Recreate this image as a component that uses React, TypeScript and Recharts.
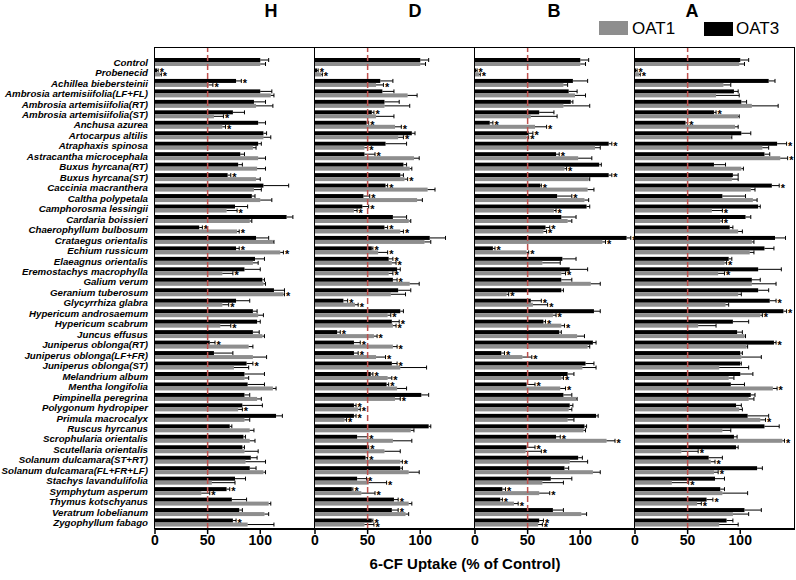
import React from "react";
import { BarChart, Bar, XAxis, YAxis, ReferenceLine } from "recharts";

const species = [
  "Control",
  "Probenecid",
  "Achillea biebersteinii",
  "Ambrosia artemisiifolia(LF+FL)",
  "Ambrosia artemisiifolia(RT)",
  "Ambrosia artemisiifolia(ST)",
  "Anchusa azurea",
  "Artocarpus altilis",
  "Atraphaxis spinosa",
  "Astracantha microcephala",
  "Buxus hyrcana(RT)",
  "Buxus hyrcana(ST)",
  "Caccinia macranthera",
  "Caltha polypetala",
  "Camphorosma lessingii",
  "Cardaria boissieri",
  "Chaerophyllum bulbosum",
  "Crataegus orientalis",
  "Echium russicum",
  "Elaeagnus orientalis",
  "Eremostachys macrophylla",
  "Galium verum",
  "Geranium tuberosum",
  "Glycyrrhiza glabra",
  "Hypericum androsaemum",
  "Hypericum scabrum",
  "Juncus effusus",
  "Juniperus oblonga(RT)",
  "Juniperus oblonga(LF+FR)",
  "Juniperus oblonga(ST)",
  "Melandrium album",
  "Mentha longifolia",
  "Pimpinella peregrina",
  "Polygonum hydropiper",
  "Primula macrocalyx",
  "Ruscus hyrcanus",
  "Scrophularia orientalis",
  "Scutellaria orientalis",
  "Solanum dulcamara(ST+RT)",
  "Solanum dulcamara(FL+FR+LF)",
  "Stachys lavandulifolia",
  "Symphytum asperum",
  "Thymus kotschyanus",
  "Veratrum lobelianum",
  "Zygophyllum fabago",
];

const panelTitles = ["H", "D", "B", "A"];
const xTicks = [0, 50, 100];

// panel H
const hOat3 = [100,2,77,100,94,74,98,103,98,81,79,69,103,92,76,125,42,96,77,95,85,102,113,77,93,97,93,52,56,87,85,88,85,83,115,71,84,83,91,90,76,68,73,80,74];
const hOat3Err = [8,1,5,11,11,11,7,3,3,4,4,3,24,3,12,6,3,12,3,9,15,2,10,13,4,3,6,5,18,6,19,16,5,19,6,2,2,2,6,6,10,3,14,3,3];
const hOat1 = [100,5,51,110,96,56,64,103,93,98,97,96,94,100,68,90,78,112,119,93,64,103,122,64,98,62,102,89,93,75,85,112,97,79,85,90,90,85,86,103,54,44,108,104,88];
const hOat1Err = [5,1,4,3,16,9,3,7,3,7,8,4,7,11,10,2,2,1,3,5,10,2,1,6,5,10,2,4,13,14,4,3,4,4,5,4,5,13,19,2,22,8,2,4,25];
const hSig3 = [1,2,11,16,18,27,29,41,44];
const hSig1 = [1,2,5,6,14,16,18,20,22,23,25,33,41];

// panel D
const dOat3 = [100,2,62,64,66,54,49,92,67,47,84,81,67,46,45,74,66,109,54,70,78,74,79,27,81,73,21,37,37,73,53,68,101,37,37,108,40,50,48,81,40,35,75,73,54];
const dOat3Err = [8,1,12,11,14,2,2,3,20,10,3,3,2,6,6,13,3,15,1,4,3,4,12,4,3,7,3,6,4,5,2,2,7,2,2,2,10,1,2,2,9,1,4,6,1];
const dOat1 = [100,6,58,88,66,58,76,79,47,94,90,85,107,97,37,89,81,104,60,73,70,90,72,38,69,74,56,74,58,81,69,78,76,41,28,91,74,66,81,89,51,44,89,86,47];
const dOat1Err = [5,1,7,9,24,17,6,5,3,5,2,3,7,5,3,2,3,6,9,4,4,9,14,3,3,3,3,4,9,25,4,9,5,2,2,3,18,15,2,10,17,13,3,3,9];
const dSig3 = [1,5,6,9,12,13,14,16,18,19,21,23,25,26,27,28,29,30,31,33,34,36,37,38,40,41,42,43,44];
const dSig1 = [1,2,6,7,8,11,14,16,18,19,20,23,24,25,26,27,28,30,32,33,34,38,40,41,44];

// panel B
const bOat3 = [100,1,93,89,91,61,14,51,127,77,118,127,62,78,106,82,67,144,17,83,90,82,82,53,113,65,80,112,25,105,88,49,84,90,115,104,77,49,98,85,72,26,24,74,61];
const bOat3Err = [8,1,14,8,2,14,3,4,3,3,2,3,1,14,3,14,4,4,2,13,17,10,2,10,6,2,2,3,3,8,6,8,8,3,2,2,4,8,4,4,20,3,2,10,4];
const bOat1 = [100,4,84,95,84,53,57,49,114,98,85,108,107,104,75,88,65,121,49,64,82,110,30,55,74,82,97,107,45,102,82,81,96,89,88,103,125,48,90,112,64,61,37,101,60];
const bOat1Err = [5,1,4,10,25,25,11,2,5,13,2,1,6,4,2,4,3,3,2,17,4,9,2,14,3,3,7,2,9,13,2,5,1,3,6,2,8,15,17,7,20,10,4,5,4];
const bSig3 = [1,6,7,8,9,11,12,13,16,17,18,23,25,28,31,36,37,41,42,44];
const bSig1 = [1,6,7,10,14,16,17,18,20,22,23,24,25,28,30,31,36,37,41,42,44];

// panel A
const aOat3 = [100,1,127,94,101,75,48,101,135,123,75,93,130,83,117,105,90,133,123,89,117,111,117,128,141,93,97,132,100,100,100,91,110,96,107,123,94,96,70,116,76,81,68,104,87];
const aOat3Err = [8,1,6,4,5,2,2,9,9,5,11,5,7,22,2,5,3,10,9,3,22,8,10,6,3,15,5,2,2,1,12,13,4,5,20,14,3,2,13,5,9,4,6,16,6];
const aOat1 = [99,4,84,77,111,98,95,91,121,138,101,92,110,112,73,81,98,111,109,85,79,111,98,86,119,60,104,106,101,80,89,131,108,99,119,83,140,44,72,75,35,83,59,93,80];
const aOat1Err = [5,1,7,22,25,1,3,1,6,7,2,6,4,4,10,2,4,2,4,2,6,23,3,3,2,17,1,1,19,28,5,4,5,3,5,8,2,16,4,4,16,24,4,15,18];
const aSig3 = [1,5,6,8,12,23,24,27,42];
const aSig1 = [1,9,14,15,19,20,24,31,34,36,37,38,39,40,42];

const FONT = "'Liberation Sans', Arial, Helvetica, sans-serif";
const GRAY = "#8e8e8e";
const PLOT_TOP = 47;
const PLOT_H = 482;
const PANEL_W = 160;

function buildRows(
  o3: number[],
  e3: number[],
  o1: number[],
  e1: number[],
  s3: number[],
  s1: number[]
) {
  return species.map((name, i) => ({
    name,
    oat3: o3[i],
    e3: e3[i],
    oat1: o1[i],
    e1: e1[i],
    s3: s3.includes(i),
    s1: s1.includes(i),
  }));
}

const panels = [
  { left: 155, rows: buildRows(hOat3, hOat3Err, hOat1, hOat1Err, hSig3, hSig1) },
  { left: 315, rows: buildRows(dOat3, dOat3Err, dOat1, dOat1Err, dSig3, dSig1) },
  { left: 475, rows: buildRows(bOat3, bOat3Err, bOat1, bOat1Err, bSig3, bSig1) },
  { left: 635, rows: buildRows(aOat3, aOat3Err, aOat1, aOat1Err, aSig3, aSig1) },
];

// bar + one-sided error bar + significance star
const barWithError = (valueKey: string, errKey: string, sigKey: string) => (props: any) => {
  const { x, y, width, height, fill, payload } = props;
  const v = payload[valueKey];
  const perUnit = v > 0 ? width / v : 0;
  const ex = x + width + payload[errKey] * perUnit;
  const cy = y + height / 2;
  return (
    <g>
      <rect x={x} y={y} width={width} height={height} fill={fill} />
      <line x1={x + width} y1={cy} x2={ex} y2={cy} stroke="#000" strokeWidth={1} />
      <line x1={ex} y1={cy - 2} x2={ex} y2={cy + 2} stroke="#000" strokeWidth={1} />
      {payload[sigKey] && (
        <text x={ex + 1.5} y={cy + 6} fontSize={11} fontWeight="bold" fontFamily={FONT} fill="#000">
          *
        </text>
      )}
    </g>
  );
};

// single-line species label (no wrapping)
const SpeciesTick = (props: any) => {
  const { x, y, payload } = props;
  return (
    <text
      x={x}
      y={y}
      dy="0.355em"
      textAnchor="end"
      fontSize={9.7}
      fontWeight="bold"
      fontStyle="italic"
      fontFamily={FONT}
      fill="#000"
    >
      {payload.value}
    </text>
  );
};

const Panel = ({ left, rows, showLabels }: { left: number; rows: any[]; showLabels: boolean }) => {
  const ml = showLabels ? 0 : 12;
  const yw = showLabels ? left : 0;
  const chartLeft = showLabels ? 0 : left - ml;
  const width = ml + yw + PANEL_W + 1;
  return (
    <div style={{ position: "absolute", left: chartLeft, top: 0 }}>
      <BarChart
        layout="vertical"
        width={width}
        height={580}
        data={rows}
        margin={{ top: PLOT_TOP, right: 1, bottom: 21, left: ml }}
        barGap={0}
        barSize={4}
      >
        <XAxis
          type="number"
          domain={[0, 152]}
          ticks={xTicks}
          allowDataOverflow
          height={30}
          tickSize={5}
          tickMargin={1}
          axisLine={{ stroke: "#000", strokeWidth: 2 }}
          tickLine={{ stroke: "#000", strokeWidth: 1.5 }}
          tick={{ fill: "#000", fontSize: 14, fontWeight: "bold", fontFamily: FONT }}
        />
        <YAxis
          type="category"
          dataKey="name"
          hide={!showLabels}
          width={yw}
          interval={0}
          axisLine={false}
          tickLine={false}
          tickMargin={1}
          padding={{ top: 10, bottom: 1 }}
          tick={<SpeciesTick />}
        />
        <Bar dataKey="oat3" fill="#000" isAnimationActive={false} shape={barWithError("oat3", "e3", "s3")} />
        <Bar dataKey="oat1" fill={GRAY} isAnimationActive={false} shape={barWithError("oat1", "e1", "s1")} />
        <ReferenceLine x={50} stroke="#c0504d" strokeWidth={1.5} strokeDasharray="6 3" />
      </BarChart>
    </div>
  );
};

export default function App() {
  return (
    <div
      style={{
        position: "absolute",
        left: 0,
        top: 0,
        width: 796,
        height: 580,
        background: "#fff",
        fontFamily: FONT,
        overflow: "hidden",
      }}
    >
      {panels.map((p, i) => (
        <Panel key={panelTitles[i]} left={p.left} rows={p.rows} showLabels={i === 0} />
      ))}
      {panels.map((p, i) => (
        <div
          key={"frame" + i}
          style={{
            position: "absolute",
            left: p.left - 0.75,
            top: PLOT_TOP,
            width: PANEL_W + (i === 3 ? 0.75 : 0),
            height: PLOT_H,
            borderTop: "1.5px solid #000",
            borderLeft: "1.5px solid #000",
            borderRight: i === 3 ? "1.5px solid #000" : "none",
            boxSizing: "border-box",
            pointerEvents: "none",
          }}
        />
      ))}
      <svg width={796} height={580} style={{ position: "absolute", left: 0, top: 0, pointerEvents: "none" }}>
        {panelTitles.map((t, i) => (
          <text
            key={t}
            x={[271, 415, 554, 692][i]}
            y={17}
            textAnchor="middle"
            fontSize={18}
            fontWeight="bold"
            fontFamily={"'Liberation Sans Narrow', " + FONT}
            fill="#000"
          >
            {t}
          </text>
        ))}
        <rect x={599} y={21} width={29} height={14} fill={GRAY} />
        <text x={632} y={33.5} fontSize={17} fontFamily={FONT} fill="#000">
          OAT1
        </text>
        <rect x={704} y={22} width={29} height={14} fill="#000" />
        <text x={736} y={33.5} fontSize={17} fontFamily={FONT} fill="#000">
          OAT3
        </text>
        <text x={465} y={569} textAnchor="middle" fontSize={15} fontWeight="bold" fontFamily={FONT} fill="#000">
          6-CF Uptake (% of Control)
        </text>
      </svg>
    </div>
  );
}
